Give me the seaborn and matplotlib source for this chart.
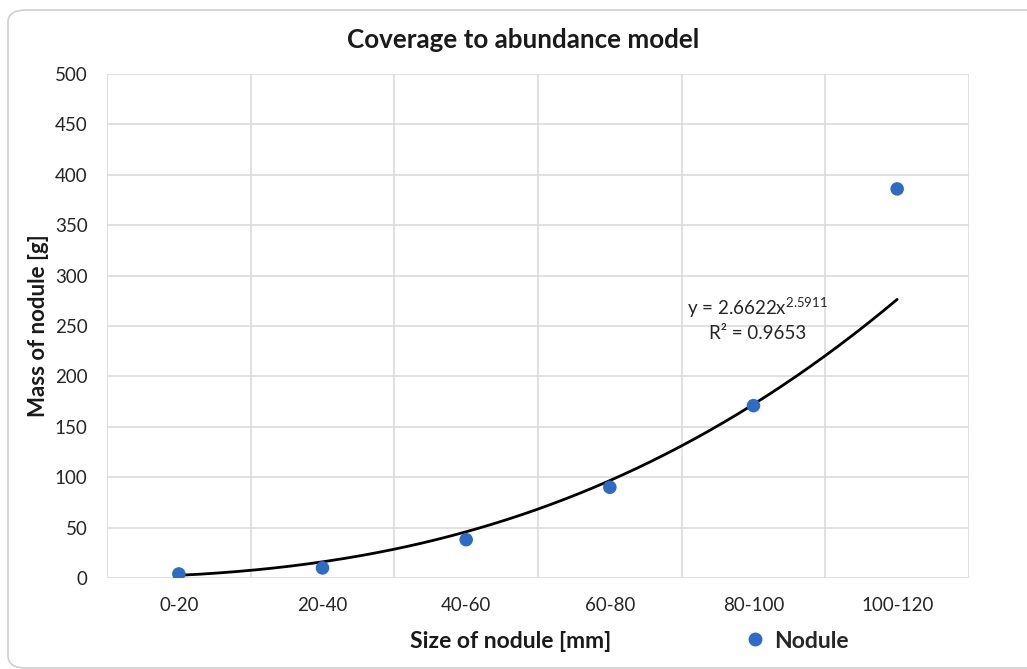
import numpy as np
import pandas as pd
import seaborn as sns
import matplotlib
matplotlib.use("Agg")
import matplotlib.pyplot as plt
from matplotlib.patches import FancyBboxPatch
from matplotlib.lines import Line2D

# Nodule size classes and measured mass
size_classes = ["0-20", "20-40", "40-60", "60-80", "80-100", "100-120"]
mass_g = [4, 10, 38, 90, 171, 386]

# Power-law trendline parameters (y = a * x^b) and goodness of fit
fit_a = 2.6622
fit_b = 2.5911
fit_r2 = 0.9653

y_ticks = [0, 50, 100, 150, 200, 250, 300, 350, 400, 450, 500]

sns.set_theme(style="white")
plt.rcParams["font.family"] = ["Lato", "DejaVu Sans"]
plt.rcParams["mathtext.default"] = "regular"

df = pd.DataFrame({
    "position": np.arange(1, len(size_classes) + 1),
    "size": size_classes,
    "mass": mass_g,
})

fig = plt.figure(figsize=(10.27, 6.69), dpi=100)
fig.patch.set_facecolor("white")

# Rounded chart frame
frame = FancyBboxPatch((8 / 1027, 1 - 668 / 669), 1.2, (668 - 10) / 669,
                       boxstyle="round,pad=0,rounding_size=0.018",
                       transform=fig.transFigure, facecolor="none",
                       edgecolor="#cfcfcf", linewidth=1.2, zorder=-1)
fig.patches.append(frame)

ax = fig.add_axes([107 / 1027, 1 - 578 / 669, (969 - 107) / 1027, (578 - 74) / 669])
ax.set_facecolor("none")

grid_color = "#d9d9d9"
for yv in y_ticks:
    ax.axhline(yv, color=grid_color, lw=1.1, zorder=1)
for xv in np.arange(0.5, len(size_classes) + 1, 1.0):
    ax.axvline(xv, color=grid_color, lw=1.1, zorder=1)

# Trendline from the fitted power law
xs = np.linspace(1, len(size_classes), 200)
ax.plot(xs, fit_a * xs ** fit_b, color="black", lw=2.0, zorder=3)

marker_color = "#2E6BC6"
sns.scatterplot(data=df, x="position", y="mass", ax=ax, color=marker_color,
                s=95, edgecolor="none", zorder=4, legend=False)

ax.set_xlim(0.5, len(size_classes) + 0.5)
ax.set_ylim(0, 500)
ax.set_xticks(df["position"])
ax.set_xticklabels(size_classes)
ax.set_yticks(y_ticks)
ax.tick_params(axis="both", labelsize=13.5, colors="#262626", length=0)
ax.tick_params(axis="x", pad=14)
ax.tick_params(axis="y", pad=14)
for s in ax.spines.values():
    s.set_visible(False)

ax.set_xlabel("")
ax.set_ylabel("Mass of nodule [g]", fontsize=16, fontweight="bold",
              color="#1a1a1a", labelpad=4)

fig.text(523 / 1027, 1 - 40 / 669, "Coverage to abundance model",
         ha="center", va="center", fontsize=18.7, fontweight="bold", color="#1a1a1a")
fig.text(511 / 1027, 1 - 642 / 669, "Size of nodule [mm]",
         ha="center", va="center", fontsize=16.5, fontweight="bold", color="#1a1a1a")

ax.text(5.03, 268, f"y = {fit_a}x$^{{{fit_b}}}$", ha="center", va="center",
        fontsize=13.5, color="#262626", zorder=5)
ax.text(5.03, 243, f"R² = {fit_r2}", ha="center", va="center",
        fontsize=13.5, color="#262626", zorder=5)

handle = Line2D([], [], marker="o", linestyle="none", markersize=10,
                markerfacecolor=marker_color, markeredgecolor="none")
fig.legend([handle], ["Nodule"], loc="center", bbox_to_anchor=(795 / 1027, 1 - 641 / 669),
           frameon=False, prop={"weight": "bold", "size": 16.5},
           handletextpad=0.2, handlelength=1.2)

fig.savefig("out.png", dpi=100, facecolor="white")
